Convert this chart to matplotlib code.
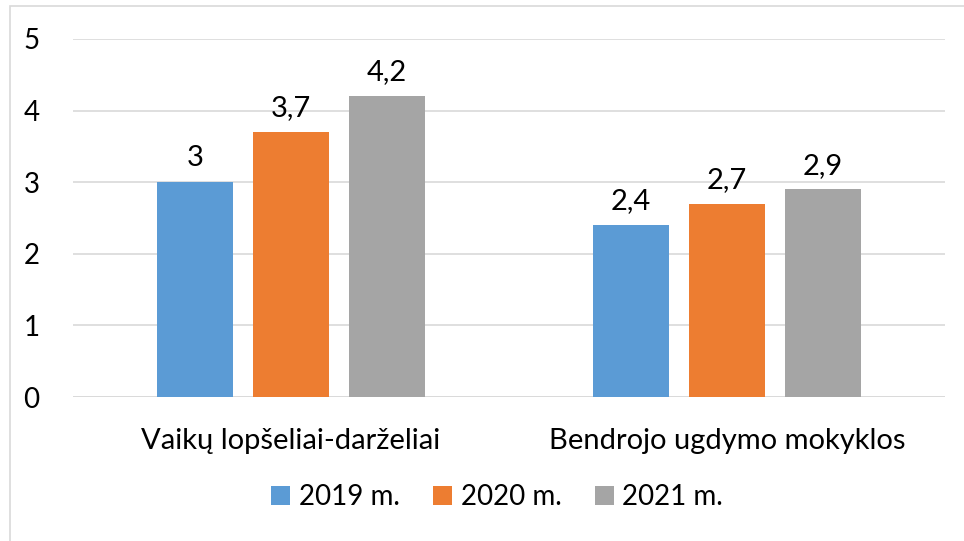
import numpy as np
import matplotlib.pyplot as plt
from matplotlib.patches import Rectangle

categories = ['Vaikų lopšeliai-darželiai', 'Bendrojo ugdymo mokyklos']
series_names = ['2019 m.', '2020 m.', '2021 m.']
v2019 = [3.0, 2.4]
v2020 = [3.7, 2.7]
v2021 = [4.2, 2.9]
labels2019 = ['3', '2,4']
labels2020 = ['3,7', '2,7']
labels2021 = ['4,2', '2,9']
yticks = [0, 1, 2, 3, 4, 5]

colors = ['#5b9bd5', '#ed7d31', '#a5a5a5']
plt.rcParams['font.family'] = ['Lato', 'DejaVu Sans']

fig = plt.figure(figsize=(9.64, 5.41), dpi=100)
fig.patches.append(Rectangle((10/964, -0.01), 1, 535/541 + 0.01, transform=fig.transFigure,
                             fill=False, edgecolor='#d9d9d9', lw=1.2))
ax = fig.add_axes([73/964, 1 - 397/541, 872/964, 358/541])

x = np.arange(len(categories))
w = 0.174
step = 0.22
for i, (vals, labs) in enumerate(zip([v2019, v2020, v2021], [labels2019, labels2020, labels2021])):
    pos = x + (i - 1) * step
    ax.bar(pos, vals, width=w, color=colors[i], label=series_names[i], zorder=3)
    for p, v, l in zip(pos, vals, labs):
        ax.text(p, v + 0.15, l, ha='center', va='bottom', fontsize=21, color='#000000')

ax.set_xlim(-0.5, 1.5)
ax.set_ylim(0, 5)
ax.set_yticks(yticks)
ax.set_yticklabels([str(t) for t in yticks], fontsize=20)
ax.set_xticks(x)
ax.set_xticklabels(categories, fontsize=21)
ax.tick_params(axis='both', length=0)
ax.tick_params(axis='y', pad=24)
ax.tick_params(axis='x', pad=22)
ax.grid(axis='y', color='#d9d9d9', lw=1.2, zorder=0)
for s in ax.spines.values():
    s.set_visible(False)
ax.axhline(0, color='#d9d9d9', lw=1.2, zorder=2)

fig.legend(loc='center', bbox_to_anchor=(497/964, 1 - 497/541), ncol=3, frameon=False,
           fontsize=20, handlelength=0.7, handleheight=0.7, handletextpad=0.3, columnspacing=1.2)

fig.savefig('out.png', dpi=100)
